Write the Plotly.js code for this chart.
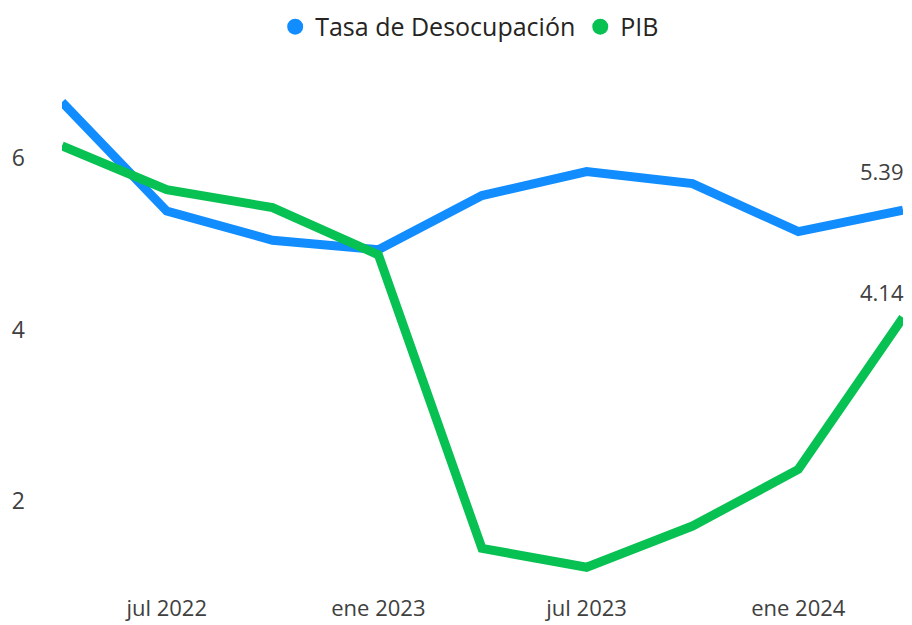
<!DOCTYPE html>
<html><head><meta charset="utf-8">
<script src="https://cdn.plot.ly/plotly-3.0.1.min.js"></script>
<style>html,body{margin:0;padding:0;background:#fff;}#chart{width:912px;height:625px;}</style>
</head><body><div id="chart"></div>
<script>
const fechas = ["2022-04-01","2022-07-01","2022-10-01","2023-01-01","2023-04-01","2023-07-01","2023-10-01","2024-01-01","2024-04-01"];
const desocupacion = [6.65, 5.38, 5.04, 4.93, 5.56, 5.84, 5.70, 5.14, 5.39];
const pib = [6.14, 5.63, 5.42, 4.87, 1.45, 1.23, 1.71, 2.37, 4.14];
const nombres = ["Tasa de Desocupación", "PIB"];
const colores = ["#118DFF", "#07C153"];
const tickVals = ["2022-07-01","2023-01-01","2023-07-01","2024-01-01"];
const tickText = ["jul 2022","ene 2023","jul 2023","ene 2024"];

const FONT = "Open Sans, Noto Sans, sans-serif";
const series = [desocupacion, pib];
const labelShift = [22, 8];
const traces = [];
series.forEach((s, i) => {
  traces.push({x: fechas, y: s, type: "scatter", mode: "lines", line: {color: colores[i], width: 9}, showlegend: false, hoverinfo: "skip"});
});
series.forEach((s, i) => {
  traces.push({x: [null], y: [null], type: "scatter", mode: "markers", name: nombres[i], marker: {color: colores[i], size: 20, symbol: "circle"}});
});
const annotations = series.map((s, i) => ({
  x: fechas[fechas.length - 1], y: s[s.length - 1], xref: "x", yref: "y",
  text: s[s.length - 1].toFixed(2), showarrow: false, xanchor: "right", yanchor: "bottom",
  xshift: 3, yshift: labelShift[i], font: {family: FONT, size: 22, color: "#404040"}
}));

Plotly.newPlot("chart", traces, {
  width: 912, height: 625,
  margin: {l: 62, r: 9, t: 72, b: 38, autoexpand: false},
  paper_bgcolor: "#fff", plot_bgcolor: "#fff",
  font: {family: FONT, size: 22, color: "#252423"},
  showlegend: true,
  legend: {orientation: "h", x: 0.515, xref: "container", xanchor: "center", y: 0.957, yref: "container", yanchor: "middle", font: {size: 25, color: "#252423"}, itemwidth: 30, tracegroupgap: 0},
  xaxis: {type: "date", range: [fechas[0], fechas[fechas.length - 1]], tickvals: tickVals, ticktext: tickText, showgrid: false, zeroline: false, showline: false, ticks: "", ticklabelstandoff: 6, tickfont: {size: 22, color: "#404040"}},
  yaxis: {range: [1.0, 7.0], tickvals: [2, 4, 6], showgrid: false, zeroline: false, showline: false, ticks: "", ticklabelstandoff: 36, tickfont: {size: 23, color: "#404040"}},
  annotations: annotations
}, {staticPlot: true});
</script></body></html>
